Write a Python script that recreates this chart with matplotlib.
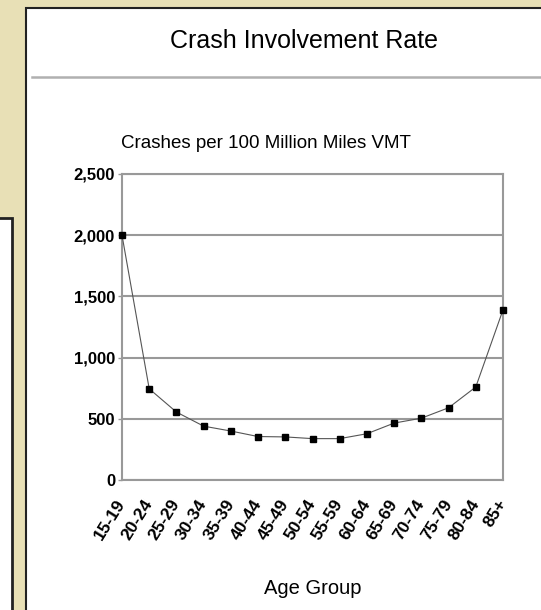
import matplotlib.pyplot as plt
from matplotlib.patches import Rectangle
from matplotlib.lines import Line2D

age_groups = ["15-19", "20-24", "25-29", "30-34", "35-39", "40-44", "45-49",
              "50-54", "55-59", "60-64", "65-69", "70-74", "75-79", "80-84", "85+"]
crash_rate = [2000, 745, 555, 440, 400, 355, 352, 338, 338, 378, 465, 505, 590, 760, 1390]
y_ticks = [0, 500, 1000, 1500, 2000, 2500]

plt.rcParams['font.family'] = ['Liberation Sans Narrow', 'Liberation Sans', 'DejaVu Sans']

W, H = 541, 610
fig = plt.figure(figsize=(W / 100, H / 100), dpi=100)
fig.patch.set_facecolor('#e8e0b6')


def px_rect(x0, y0, x1, y1, **kw):
    # rectangle in pixel coords (top-left origin)
    r = Rectangle((x0 / W, 1 - y1 / H), (x1 - x0) / W, (y1 - y0) / H,
                  transform=fig.transFigure, zorder=-2, **kw)
    fig.patches.append(r)


# left white box and main white panel, with dark borders
px_rect(-5, 218, 12, H + 5, facecolor='white', edgecolor='#222222', linewidth=2)
px_rect(26, 8, W + 5, H + 5, facecolor='white', edgecolor='#222222', linewidth=1.5)

fig.text(304 / W, 1 - 41 / H, "Crash Involvement Rate", ha='center', va='center',
         fontsize=18, color='black')
fig.lines.append(Line2D([32 / W, 1], [1 - 77 / H, 1 - 77 / H], transform=fig.transFigure,
                        color='#b0b0b0', linewidth=1.8, zorder=-1))
fig.text(266 / W, 1 - 143 / H, "Crashes per 100 Million Miles VMT", ha='center',
         va='center', fontsize=13.5, color='black')

ax = fig.add_axes([122 / W, 1 - 480 / H, (503 - 122) / W, (480 - 174) / H])
x = list(range(len(age_groups)))
ax.plot(x, crash_rate, color='#555555', linewidth=0.8, marker='s', markersize=5,
        markerfacecolor='black', markeredgecolor='black', clip_on=False, zorder=3)

ax.set_xlim(0, len(age_groups) - 1)
ax.set_ylim(0, 2500)
ax.set_yticks(y_ticks)
ax.set_yticklabels([f"{v:,}" for v in y_ticks], fontsize=12, fontweight='bold')
ax.set_xticks(x)
ax.set_xticklabels(age_groups, fontsize=12.5, fontweight='bold', rotation=58,
                   ha='right', va='center', rotation_mode='anchor')
ax.tick_params(axis='x', length=0, pad=15)
ax.tick_params(axis='y', length=3, width=1, color='#999999', pad=2)
ax.yaxis.grid(True, color='#999999', linewidth=1.5)
ax.set_axisbelow(True)
for s in ax.spines.values():
    s.set_color('#999999')
    s.set_linewidth(1.5)

ax.set_xlabel("Age Group", fontsize=14.5, labelpad=26)

plt.savefig("out.png", dpi=100, facecolor=fig.get_facecolor())
